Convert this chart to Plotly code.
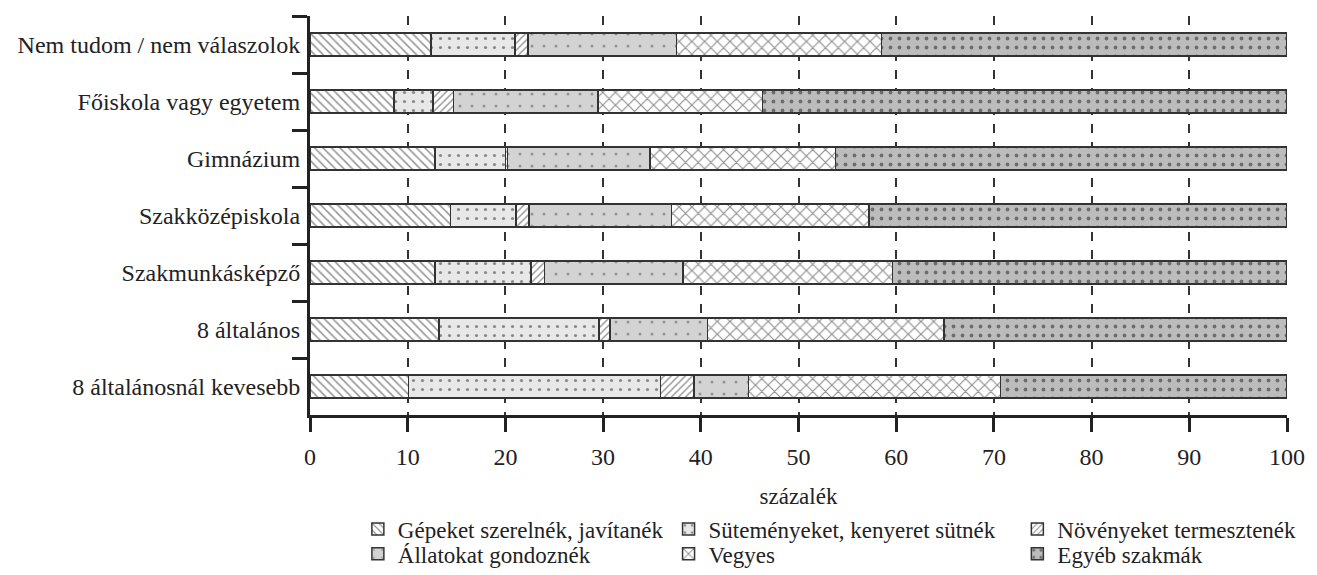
import plotly.graph_objects as go

categories = [
    "Nem tudom / nem válaszolok",
    "Főiskola vagy egyetem",
    "Gimnázium",
    "Szakközépiskola",
    "Szakmunkásképző",
    "8 általános",
    "8 általánosnál kevesebb",
]

gepek = [12.4, 8.6, 12.8, 14.4, 12.8, 13.2, 10.1]
sutemeny = [8.6, 4.0, 7.2, 6.7, 9.8, 16.4, 25.8]
noveny = [1.3, 2.1, 0.2, 1.3, 1.4, 1.1, 3.4]
allat = [15.2, 14.8, 14.6, 14.6, 14.2, 10.0, 5.6]
vegyes = [21.0, 16.8, 19.0, 20.2, 21.4, 24.2, 25.8]
egyeb = [41.5, 53.7, 46.2, 42.8, 40.4, 35.1, 29.3]

x_ticks = [0, 10, 20, 30, 40, 50, 60, 70, 80, 90, 100]

series = [
    ("Gépeket szerelnék, javítanék", gepek, dict(shape="\\", bgcolor="white", fgcolor="#222222", size=6, solidity=0.25)),
    ("Süteményeket, kenyeret sütnék", sutemeny, dict(shape=".", bgcolor="#e8e8e8", fgcolor="#2a2a2a", size=9, solidity=0.1)),
    ("Növényeket termesztenék", noveny, dict(shape="/", bgcolor="white", fgcolor="#222222", size=5, solidity=0.28)),
    ("Állatokat gondoznék", allat, dict(shape=".", bgcolor="#d3d3d3", fgcolor="#555555", size=12, solidity=0.05)),
    ("Vegyes", vegyes, dict(shape="x", bgcolor="white", fgcolor="#222222", size=9, solidity=0.25)),
    ("Egyéb szakmák", egyeb, dict(shape=".", bgcolor="#bcbcbc", fgcolor="#1e1e1e", size=9, solidity=0.14)),
]

# one single-item legend per entry, laid out as a 3 x 2 grid
legend_pos = [
    (0.049, -0.232), (0.367, -0.232), (0.724, -0.232),
    (0.049, -0.294), (0.367, -0.294), (0.724, -0.294),
]

FONT = "Liberation Serif"
TXT = "#222222"

fig = go.Figure()
layout_legends = {}
for i, (name, vals, pat) in enumerate(series):
    key = "legend" if i == 0 else f"legend{i + 1}"
    fig.add_trace(go.Bar(
        y=categories, x=vals, name=name, orientation="h",
        width=0.4, showlegend=True,
        marker=dict(color=pat["bgcolor"], pattern=pat,
                    line=dict(color="#333333", width=1.5)),
        legend=key,
    ))
    lx, ly = legend_pos[i]
    layout_legends[key] = dict(
        x=lx, y=ly, xanchor="left", yanchor="top",
        font=dict(family=FONT, size=23, color=TXT),
        bgcolor="rgba(0,0,0,0)", borderwidth=0,
    )

fig.update_layout(
    barmode="stack",
    width=1317, height=575,
    showlegend=True,
    margin=dict(l=302, r=38, t=8, b=165),
    plot_bgcolor="white", paper_bgcolor="white",
    font=dict(family=FONT, size=23, color=TXT),
    xaxis=dict(
        range=[0, 100], tickvals=x_ticks, ticks="outside", ticklen=14, tickwidth=3,
        tickcolor="#222222", showline=True, linewidth=3, linecolor="#222222",
        showgrid=True, gridcolor="#333333", gridwidth=1.5, griddash="dash",
        zeroline=False, ticklabelstandoff=4,
        tickfont=dict(family=FONT, size=24, color=TXT),
        title=dict(text="százalék", standoff=20, font=dict(family=FONT, size=23, color=TXT)),
    ),
    yaxis=dict(
        autorange="reversed", type="category", tickson="boundaries",
        ticks="outside", ticklen=15, tickwidth=3, tickcolor="#222222",
        showline=True, linewidth=3, linecolor="#222222", showgrid=False,
        ticklabelstandoff=2,
        tickfont=dict(family=FONT, size=24, color=TXT),
    ),
    **layout_legends,
)

fig.write_html("out.html")
